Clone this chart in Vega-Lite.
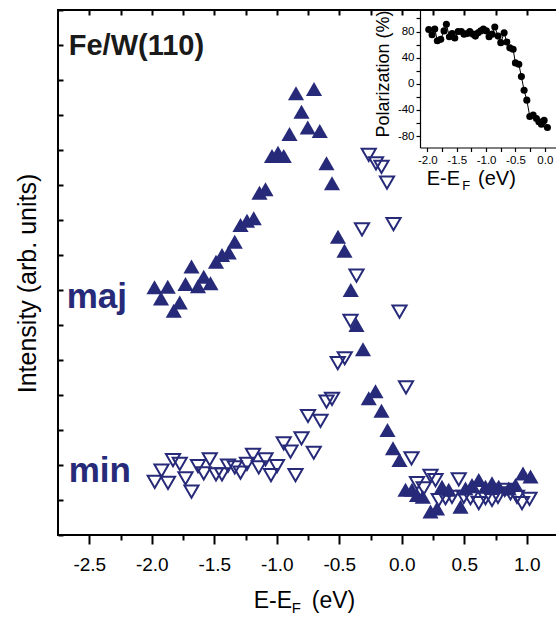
{
 "$schema": "https://vega.github.io/schema/vega-lite/v6.json",
 "width": 500,
 "height": 525,
 "autosize": {"type": "none"},
 "padding": {"left": 58, "top": 10, "right": 0, "bottom": 85},
 "background": "white",
 "config": {
  "font": "Liberation Sans",
  "view": {"stroke": "#000", "strokeWidth": 2},
  "axis": {"grid": false, "labelColor": "#000", "titleColor": "#000", "tickColor": "#000", "domainColor": "#000", "titleFontWeight": "normal", "labelOverlap": false, "labelFlush": false, "labelBound": false, "labelFont": "Liberation Sans", "titleFont": "Liberation Sans", "tickCount": 100}
 },
 "datasets": {
  "maj": [
   {"x": -1.978, "y": 7.08}, {"x": -1.926, "y": 6.76}, {"x": -1.872, "y": 7.09}, {"x": -1.824, "y": 6.41}, {"x": -1.776, "y": 6.64},
   {"x": -1.73, "y": 7.17}, {"x": -1.682, "y": 7.67}, {"x": -1.63, "y": 7.11}, {"x": -1.584, "y": 7.38}, {"x": -1.53, "y": 7.19},
   {"x": -1.486, "y": 7.81}, {"x": -1.438, "y": 8.0}, {"x": -1.384, "y": 8.07}, {"x": -1.336, "y": 8.38}, {"x": -1.29, "y": 8.86},
   {"x": -1.238, "y": 8.98}, {"x": -1.184, "y": 9.05}, {"x": -1.138, "y": 9.78}, {"x": -1.09, "y": 9.88}, {"x": -1.038, "y": 10.83},
   {"x": -0.99, "y": 10.92}, {"x": -0.944, "y": 10.83}, {"x": -0.898, "y": 11.46}, {"x": -0.846, "y": 12.62}, {"x": -0.802, "y": 12.09},
   {"x": -0.752, "y": 11.64}, {"x": -0.702, "y": 12.74}, {"x": -0.656, "y": 11.54}, {"x": -0.602, "y": 10.62}, {"x": -0.558, "y": 10.05},
   {"x": -0.51, "y": 8.52}, {"x": -0.458, "y": 8.12}, {"x": -0.408, "y": 7.0}, {"x": -0.362, "y": 6.0}, {"x": -0.31, "y": 5.31},
   {"x": -0.264, "y": 3.91}, {"x": -0.21, "y": 4.11}, {"x": -0.162, "y": 3.55}, {"x": -0.114, "y": 3.0}, {"x": -0.07, "y": 2.48},
   {"x": -0.018, "y": 2.14}, {"x": 0.03, "y": 1.29}, {"x": 0.082, "y": 1.29}, {"x": 0.122, "y": 1.14}, {"x": 0.168, "y": 1.09},
   {"x": 0.23, "y": 0.67}, {"x": 0.282, "y": 0.76}, {"x": 0.322, "y": 1.38}, {"x": 0.376, "y": 1.29}, {"x": 0.47, "y": 0.81},
   {"x": 0.51, "y": 1.33}, {"x": 0.562, "y": 1.43}, {"x": 0.616, "y": 1.57}, {"x": 0.67, "y": 1.38}, {"x": 0.722, "y": 1.48},
   {"x": 0.776, "y": 1.38}, {"x": 0.856, "y": 1.33}, {"x": 0.91, "y": 1.43}, {"x": 0.97, "y": 1.76}, {"x": 1.03, "y": 1.67}
  ],
  "min": [
   {"x": -1.976, "y": 1.52}, {"x": -1.922, "y": 1.84}, {"x": -1.87, "y": 1.49}, {"x": -1.83, "y": 2.14}, {"x": -1.776, "y": 2.03},
   {"x": -1.73, "y": 1.62}, {"x": -1.682, "y": 1.24}, {"x": -1.63, "y": 1.97}, {"x": -1.584, "y": 1.76}, {"x": -1.536, "y": 2.16},
   {"x": -1.486, "y": 1.73}, {"x": -1.438, "y": 1.73}, {"x": -1.39, "y": 1.98}, {"x": -1.336, "y": 1.93}, {"x": -1.29, "y": 1.78},
   {"x": -1.238, "y": 2.03}, {"x": -1.19, "y": 2.29}, {"x": -1.144, "y": 1.93}, {"x": -1.09, "y": 2.16}, {"x": -1.046, "y": 1.71},
   {"x": -0.998, "y": 1.97}, {"x": -0.944, "y": 2.62}, {"x": -0.89, "y": 2.38}, {"x": -0.85, "y": 1.71}, {"x": -0.802, "y": 2.76},
   {"x": -0.75, "y": 3.4}, {"x": -0.704, "y": 2.35}, {"x": -0.65, "y": 3.26}, {"x": -0.602, "y": 3.81}, {"x": -0.558, "y": 3.89},
   {"x": -0.512, "y": 4.91}, {"x": -0.456, "y": 5.05}, {"x": -0.41, "y": 6.12}, {"x": -0.362, "y": 7.41}, {"x": -0.318, "y": 8.73},
   {"x": -0.264, "y": 10.86}, {"x": -0.206, "y": 10.62}, {"x": -0.162, "y": 10.52}, {"x": -0.118, "y": 10.07}, {"x": -0.066, "y": 8.88},
   {"x": -0.018, "y": 6.38}, {"x": 0.034, "y": 4.22}, {"x": 0.078, "y": 2.19}, {"x": 0.122, "y": 1.48}, {"x": 0.176, "y": 1.33},
   {"x": 0.23, "y": 1.69}, {"x": 0.27, "y": 1.57}, {"x": 0.296, "y": 1.0}, {"x": 0.35, "y": 1.05}, {"x": 0.402, "y": 1.09},
   {"x": 0.456, "y": 1.59}, {"x": 0.496, "y": 1.09}, {"x": 0.55, "y": 1.05}, {"x": 0.616, "y": 0.91}, {"x": 0.67, "y": 1.05},
   {"x": 0.722, "y": 1.0}, {"x": 0.77, "y": 1.09}, {"x": 0.824, "y": 1.29}, {"x": 0.87, "y": 1.19}, {"x": 0.922, "y": 1.09},
   {"x": 0.962, "y": 0.91}, {"x": 1.022, "y": 1.03}
  ],
  "pol": [
   {"x": -1.976, "y": 83}, {"x": -1.92, "y": 75}, {"x": -1.874, "y": 84}, {"x": -1.83, "y": 66}, {"x": -1.772, "y": 68},
   {"x": -1.716, "y": 81}, {"x": -1.676, "y": 91}, {"x": -1.625, "y": 72}, {"x": -1.579, "y": 77}, {"x": -1.533, "y": 70},
   {"x": -1.477, "y": 80}, {"x": -1.421, "y": 80}, {"x": -1.375, "y": 76}, {"x": -1.319, "y": 77}, {"x": -1.278, "y": 80},
   {"x": -1.221, "y": 76}, {"x": -1.182, "y": 73}, {"x": -1.136, "y": 78}, {"x": -1.09, "y": 81}, {"x": -1.046, "y": 84},
   {"x": -0.995, "y": 81}, {"x": -0.949, "y": 72}, {"x": -0.898, "y": 76}, {"x": -0.852, "y": 87}, {"x": -0.796, "y": 73},
   {"x": -0.75, "y": 63}, {"x": -0.693, "y": 78}, {"x": -0.647, "y": 64}, {"x": -0.596, "y": 55}, {"x": -0.54, "y": 53},
   {"x": -0.501, "y": 32}, {"x": -0.443, "y": 30}, {"x": -0.399, "y": 11}, {"x": -0.353, "y": -10}, {"x": -0.307, "y": -25},
   {"x": -0.256, "y": -50}, {"x": -0.199, "y": -48}, {"x": -0.143, "y": -53}, {"x": -0.102, "y": -58}, {"x": -0.058, "y": -62},
   {"x": -0.012, "y": -56}, {"x": 0.044, "y": -67}
  ]
 },
 "layer": [
  {
   "layer": [
    {
     "data": {"name": "maj"},
     "mark": {"type": "point", "shape": "triangle-up", "filled": true, "size": 260, "color": "#262a78", "opacity": 1},
     "encoding": {
      "x": {"field": "x", "type": "quantitative",
       "scale": {"domain": [-2.75, 1.25], "nice": false, "zero": false},
       "axis": {"orient": "bottom", "values": [-2.5, -2.0, -1.5, -1.0, -0.5, 0.0, 0.5, 1.0], "format": ".1f", "tickCount": 100,
        "labelExpr": "replace(datum.label, '\u2212', '-')", "tickSize": 9, "tickWidth": 2, "domain": false,
        "labelFontSize": 19, "labelPadding": 11, "title": null}},
      "y": {"field": "y", "type": "quantitative",
       "scale": {"domain": [0, 15], "nice": false, "zero": false},
       "axis": {"orient": "left", "values": [0,1,2,3,4,5,6,7,8,9,10,11,12,13,14,15], "tickCount": 100, "tickSize": -5, "tickWidth": 2,
        "labels": false, "domain": false, "title": "Intensity (arb. units)", "titleFontSize": 25,
        "titleX": -31, "titleY": 273, "titleBaseline": "middle"}}
     }
    },
    {
     "data": {"name": "min"},
     "mark": {"type": "point", "shape": "triangle-down", "filled": false, "size": 200, "strokeWidth": 2, "color": "#262a78", "opacity": 1},
     "encoding": {
      "x": {"field": "x", "type": "quantitative"},
      "y": {"field": "y", "type": "quantitative"}
     }
    },
    {
     "data": {"values": [{}]},
     "mark": {"type": "text", "text": "Fe/W(110)", "fontSize": 29, "fontWeight": "bold", "align": "left", "baseline": "alphabetic", "color": "#1a1a1a"},
     "encoding": {"x": {"datum": -2.664}, "y": {"datum": 13.714}}
    },
    {
     "data": {"values": [{}]},
     "mark": {"type": "text", "text": "maj", "fontSize": 35, "fontWeight": "bold", "align": "left", "baseline": "alphabetic", "color": "#262a78"},
     "encoding": {"x": {"datum": -2.68}, "y": {"datum": 6.486}}
    },
    {
     "data": {"values": [{}]},
     "mark": {"type": "text", "text": "min", "fontSize": 35, "fontWeight": "bold", "align": "left", "baseline": "alphabetic", "color": "#262a78"},
     "encoding": {"x": {"datum": -2.664}, "y": {"datum": 1.514}}
    },
    {
     "data": {"values": [{}]},
     "mark": {"type": "text", "text": "E-E", "fontSize": 23, "align": "left", "baseline": "alphabetic", "color": "#000"},
     "encoding": {"x": {"datum": -1.184}, "y": {"datum": -2.086}}
    },
    {
     "data": {"values": [{}]},
     "mark": {"type": "text", "text": "F", "fontSize": 15, "align": "left", "baseline": "alphabetic", "color": "#000"},
     "encoding": {"x": {"datum": -0.88}, "y": {"datum": -2.229}}
    },
    {
     "data": {"values": [{}]},
     "mark": {"type": "text", "text": "(eV)", "fontSize": 23, "align": "left", "baseline": "alphabetic", "color": "#000"},
     "encoding": {"x": {"datum": -0.72}, "y": {"datum": -2.086}}
    }
   ]
  },
  {
   "data": {"name": "maj"},
   "mark": {"type": "point", "opacity": 0},
   "encoding": {
    "x": {"field": "x", "type": "quantitative",
     "scale": {"domain": [-2.75, 1.25], "nice": false, "zero": false},
     "axis": {"orient": "bottom", "values": [-2.25, -1.75, -1.25, -0.75, -0.25, 0.25, 0.75], "tickCount": 100, "labels": false, "domain": false,
      "tickSize": 5, "tickWidth": 2, "title": null}}
   }
  },
  {
   "data": {"name": "maj"},
   "mark": {"type": "point", "opacity": 0},
   "encoding": {
    "x": {"field": "x", "type": "quantitative",
     "scale": {"domain": [-2.75, 1.25], "nice": false, "zero": false},
     "axis": {"orient": "top", "values": [-2.5, -2.25, -2.0, -1.75, -1.5, -1.25, -1.0, -0.75, -0.5, -0.25, 0.0, 0.25, 0.5, 0.75, 1.0], "tickCount": 100,
      "labels": false, "domain": false, "tickSize": -5, "tickWidth": 2, "title": null}}
   }
  },
  {
   "layer": [
    {
     "data": {"name": "pol"},
     "mark": {"type": "line", "color": "#000", "strokeWidth": 1},
     "encoding": {
      "x": {"field": "x", "type": "quantitative",
       "scale": {"domain": [-2.125, 0.19], "range": [362, 498], "nice": false, "zero": false},
       "axis": {"orient": "bottom", "offset": -387.5, "values": [-2.0, -1.75, -1.5, -1.25, -1.0, -0.75, -0.5, -0.25, 0.0], "format": ".1f", "tickCount": 100,
        "labelExpr": "abs(datum.value * 2 - round(datum.value * 2)) < 0.001 ? replace(datum.label, '\u2212', '-') : ''",
        "tickSize": 4, "tickWidth": 1.2, "domain": true, "domainWidth": 1.2, "labelFontSize": 11.5, "labelPadding": 3, "title": null}},
      "y": {"field": "y", "type": "quantitative",
       "scale": {"domain": [-97.5, 112.5], "range": [137.5, 0.3], "nice": false, "zero": false},
       "axis": {"orient": "left", "offset": -362, "values": [-80, -60, -40, -20, 0, 20, 40, 60, 80, 100], "tickCount": 100,
        "labelExpr": "datum.value % 40 == 0 ? replace(datum.label, '\u2212', '-') : ''",
        "tickSize": 4, "tickWidth": 1.2, "domain": true, "domainWidth": 1.2, "labelFontSize": 11.5, "labelPadding": 2,
        "title": "Polarization (%)", "titleFontSize": 18, "titleX": -37, "titleY": 63.5, "titleBaseline": "middle"}}
     }
    },
    {
     "data": {"name": "pol"},
     "mark": {"type": "point", "shape": "circle", "filled": true, "size": 50, "color": "#000", "opacity": 1},
     "encoding": {
      "x": {"field": "x", "type": "quantitative"},
      "y": {"field": "y", "type": "quantitative"}
     }
    },
    {
     "data": {"values": [{}]},
     "mark": {"type": "text", "text": "E-E", "fontSize": 20, "align": "left", "baseline": "alphabetic", "color": "#000"},
     "encoding": {"x": {"datum": -2.01}, "y": {"datum": -154.9}}
    },
    {
     "data": {"values": [{}]},
     "mark": {"type": "text", "text": "F", "fontSize": 13, "align": "left", "baseline": "alphabetic", "color": "#000"},
     "encoding": {"x": {"datum": -1.405}, "y": {"datum": -162.6}}
    },
    {
     "data": {"values": [{}]},
     "mark": {"type": "text", "text": "(eV)", "fontSize": 20, "align": "left", "baseline": "alphabetic", "color": "#000"},
     "encoding": {"x": {"datum": -1.137}, "y": {"datum": -154.9}}
    }
   ]
  }
 ],
 "resolve": {
  "scale": {"x": "independent", "y": "independent"},
  "axis": {"x": "independent", "y": "independent"}
 }
}
